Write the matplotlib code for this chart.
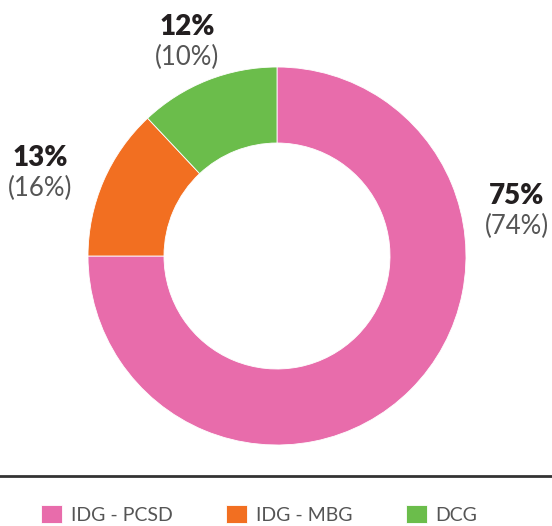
import matplotlib.pyplot as plt
from matplotlib.lines import Line2D

# data
categories = ['IDG - PCSD', 'IDG - MBG', 'DCG']
shares = [75, 13, 12]
prev_shares = [74, 16, 10]
colors = ['#E86CAB', '#F26F21', '#6BBD4B']

plt.rcParams['font.family'] = ['Lato', 'DejaVu Sans']

fig = plt.figure(figsize=(5.52, 5.26), dpi=100)
ax = fig.add_axes([0, 0, 1, 1])

# donut, center in pixel coords (y measured from the bottom)
cx, cy, r = 277, 526 - 256, 189
wedges, _ = ax.pie(shares, colors=colors, startangle=90, counterclock=False,
                   center=(cx, cy), radius=r, labels=categories, labeldistance=None,
                   wedgeprops=dict(width=76, edgecolor='white', linewidth=0.6),
                   frame=True)
ax.set_xlim(0, 552)
ax.set_ylim(0, 526)
ax.axis('off')

# value labels: bold current share, lighter previous share underneath
label_pos = [(517, 526 - 196), (40, 526 - 158), (187, 526 - 27)]
for (x, y), s, p in zip(label_pos, shares, prev_shares):
    ax.text(x, y, f'{s}%', ha='center', va='center', fontsize=20,
            fontweight='heavy', color='#231F20')
    ax.text(x, y - 30, f'({p}%)', ha='center', va='center', fontsize=18.5,
            fontweight='normal', color='#555555')

# separator line
ax.add_line(Line2D([0, 552], [526 - 476, 526 - 476], color='#333333', linewidth=2))

fig.legend(handles=wedges, labels=categories, loc='upper left',
           bbox_to_anchor=(41 / 552, 1 - 505 / 526), ncol=3, frameon=False,
           borderpad=0, borderaxespad=0,
           fontsize=14, handlelength=1.08, handleheight=1.08, handletextpad=0.45,
           columnspacing=2.75, labelcolor='#555555')

fig.savefig('out.png', dpi=100)
